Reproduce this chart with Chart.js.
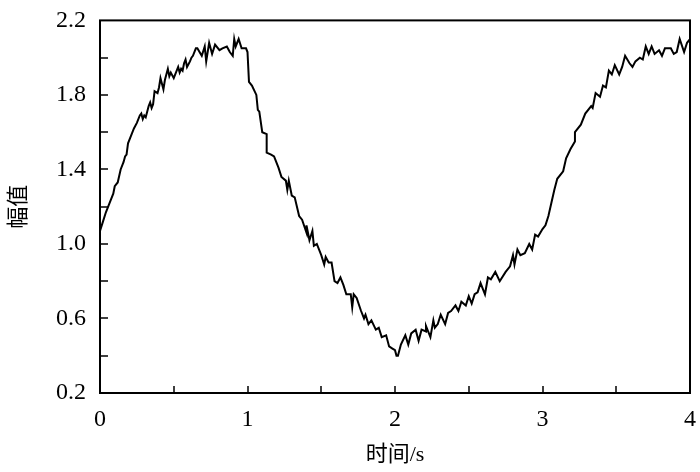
<!DOCTYPE html>
<html>
<head>
<meta charset="utf-8">
<script src="https://cdn.jsdelivr.net/npm/chart.js@4/dist/chart.umd.min.js"></script>
<style>
  html, body { margin: 0; padding: 0; background: #fff; }
</style>
</head>
<body>
<canvas id="c" width="700" height="472"></canvas>
<script>
// time (s) and amplitude
const times = [
  0.00, 0.02, 0.04, 0.06, 0.08, 0.09, 0.10, 0.12, 0.14, 0.16, 0.17, 0.18, 0.19, 0.21, 0.23, 0.25,
  0.27, 0.28, 0.29, 0.30, 0.31, 0.33, 0.34, 0.35, 0.36, 0.37, 0.39, 0.40, 0.41, 0.42, 0.43, 0.44,
  0.46, 0.47, 0.48, 0.50, 0.51, 0.53, 0.54, 0.55, 0.56, 0.57, 0.58, 0.59, 0.61, 0.62, 0.63, 0.65,
  0.66, 0.69, 0.71, 0.72, 0.74, 0.76, 0.78, 0.81, 0.83, 0.86, 0.88, 0.90, 0.91, 0.92, 0.94, 0.96,
  0.99, 1.00, 1.01, 1.03, 1.06, 1.07, 1.08, 1.10, 1.13, 1.13, 1.16, 1.18, 1.21, 1.23, 1.26, 1.27,
  1.28, 1.30, 1.32, 1.35, 1.37, 1.40, 1.40, 1.42, 1.44, 1.45, 1.47, 1.50, 1.52, 1.53, 1.55, 1.57,
  1.59, 1.61, 1.63, 1.65, 1.67, 1.70, 1.71, 1.72, 1.74, 1.77, 1.79, 1.80, 1.82, 1.84, 1.87, 1.89,
  1.91, 1.94, 1.96, 1.98, 2.00, 2.01, 2.02, 2.04, 2.07, 2.09, 2.11, 2.14, 2.16, 2.18, 2.21, 2.21,
  2.24, 2.26, 2.27, 2.29, 2.31, 2.34, 2.36, 2.38, 2.41, 2.43, 2.45, 2.48, 2.50, 2.52, 2.54, 2.56,
  2.58, 2.61, 2.63, 2.65, 2.68, 2.71, 2.75, 2.78, 2.80, 2.81, 2.83, 2.85, 2.88, 2.91, 2.93, 2.95,
  2.97, 3.00, 3.02, 3.04, 3.06, 3.08, 3.10, 3.14, 3.16, 3.19, 3.22, 3.22, 3.26, 3.29, 3.33, 3.34,
  3.36, 3.39, 3.41, 3.43, 3.45, 3.47, 3.49, 3.52, 3.54, 3.56, 3.59, 3.61, 3.63, 3.66, 3.68, 3.70,
  3.72, 3.74, 3.76, 3.79, 3.81, 3.83, 3.87, 3.89, 3.91, 3.93, 3.96, 3.98, 4.00
];
const amplitude = [
  1.07, 1.12, 1.17, 1.21, 1.25, 1.27, 1.31, 1.33, 1.40, 1.44, 1.47, 1.48, 1.54, 1.58, 1.62, 1.65,
  1.69, 1.70, 1.67, 1.69, 1.68, 1.74, 1.76, 1.73, 1.75, 1.82, 1.81, 1.84, 1.89, 1.86, 1.83, 1.88,
  1.94, 1.90, 1.92, 1.89, 1.91, 1.95, 1.92, 1.94, 1.93, 1.97, 1.99, 1.95, 1.98, 2.00, 2.01, 2.05,
  2.05, 2.01, 2.06, 1.98, 2.08, 2.02, 2.07, 2.04, 2.05, 2.06, 2.03, 2.01, 2.10, 2.06, 2.10, 2.05,
  2.05, 2.03, 1.87, 1.85, 1.80, 1.72, 1.71, 1.60, 1.59, 1.49, 1.48, 1.47, 1.41, 1.36, 1.34, 1.29,
  1.34, 1.26, 1.25, 1.15, 1.13, 1.06, 1.10, 1.02, 1.07, 0.99, 1.00, 0.94, 0.89, 0.93, 0.90, 0.90,
  0.80, 0.79, 0.82, 0.78, 0.73, 0.73, 0.66, 0.73, 0.71, 0.64, 0.60, 0.62, 0.57, 0.59, 0.54, 0.55,
  0.50, 0.51, 0.45, 0.44, 0.43, 0.40, 0.40, 0.46, 0.51, 0.46, 0.52, 0.54, 0.48, 0.54, 0.53, 0.56,
  0.50, 0.59, 0.55, 0.57, 0.62, 0.57, 0.63, 0.64, 0.67, 0.64, 0.69, 0.67, 0.72, 0.68, 0.73, 0.74,
  0.79, 0.73, 0.82, 0.81, 0.85, 0.80, 0.85, 0.88, 0.94, 0.89, 0.97, 0.94, 0.95, 1.00, 0.97, 1.05,
  1.04, 1.08, 1.10, 1.15, 1.22, 1.29, 1.35, 1.39, 1.46, 1.51, 1.55, 1.60, 1.64, 1.70, 1.74, 1.73,
  1.81, 1.79, 1.85, 1.84, 1.93, 1.91, 1.96, 1.91, 1.95, 2.01, 1.97, 1.95, 1.98, 2.00, 1.99, 2.06,
  2.02, 2.06, 2.02, 2.04, 2.01, 2.05, 2.05, 2.02, 2.03, 2.10, 2.03, 2.08, 2.10
];
const xMinorTicks = [0.5, 1, 1.5, 2, 2.5, 3, 3.5];
const yMinorTicks = [0.4, 0.6, 0.8, 1.0, 1.2, 1.4, 1.6, 1.8, 2.0];

const serif = '"Liberation Serif", "Noto Sans CJK SC", serif';

const framePlugin = {
  id: 'frame',
  afterDraw(chart) {
    const { ctx, chartArea: a, scales } = chart;
    ctx.save();
    ctx.strokeStyle = '#000';
    ctx.lineWidth = 2;
    ctx.strokeRect(a.left, a.top, a.right - a.left, a.bottom - a.top);
    ctx.lineWidth = 1.5;
    ctx.beginPath();
    xMinorTicks.forEach(v => {
      const x = Math.round(scales.x.getPixelForValue(v));
      ctx.moveTo(x, a.bottom);
      ctx.lineTo(x, a.bottom - 7);
    });
    yMinorTicks.forEach(v => {
      const y = Math.round(scales.y.getPixelForValue(v));
      ctx.moveTo(a.left, y);
      ctx.lineTo(a.left + 8, y);
    });
    ctx.stroke();
    ctx.restore();
  }
};

new Chart(document.getElementById('c'), {
  type: 'line',
  data: {
    datasets: [{
      data: times.map((t, i) => ({ x: t, y: amplitude[i] })),
      borderColor: '#000',
      borderWidth: 2,
      pointRadius: 0,
      tension: 0,
      fill: false
    }]
  },
  options: {
    responsive: false,
    animation: false,
    devicePixelRatio: 1,
    layout: { padding: { top: 14, right: 7, left: 6, bottom: 0 } },
    plugins: { legend: { display: false }, tooltip: { enabled: false } },
    scales: {
      x: {
        type: 'linear',
        min: 0,
        max: 4,
        grid: { display: false },
        border: { display: false },
        ticks: { stepSize: 1, color: '#000', padding: 4, font: { family: serif, size: 24 } },
        title: { display: true, text: '时间/s', color: '#000', padding: { top: 0 }, font: { family: serif, size: 22 } },
        afterFit(s) { s.height = 79; }
      },
      y: {
        min: 0.2,
        max: 2.2,
        grid: { display: false },
        border: { display: false },
        ticks: {
          stepSize: 0.4,
          color: '#000',
          padding: 6,
          font: { family: serif, size: 24 },
          callback: v => v.toFixed(1)
        },
        title: { display: true, text: '幅值', color: '#000', padding: 0, font: { family: serif, size: 22 } },
        afterFit(s) { s.width = 94; }
      }
    }
  },
  plugins: [framePlugin]
});
</script>
</body>
</html>
